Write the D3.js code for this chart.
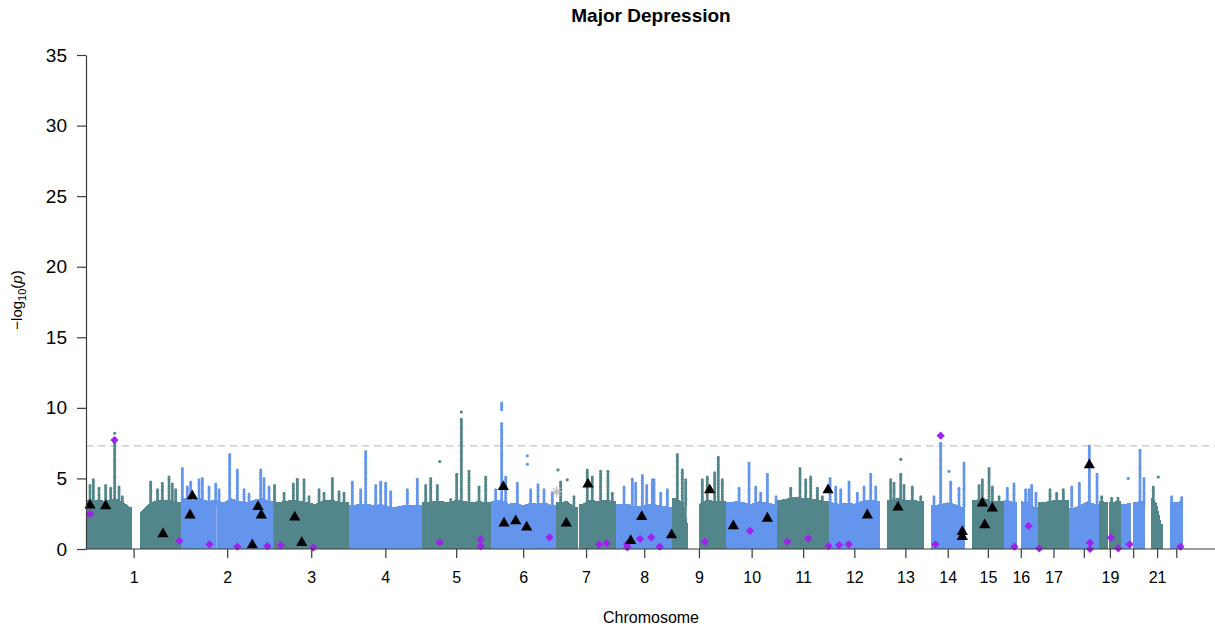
<!DOCTYPE html>
<html>
<head>
<meta charset="utf-8">
<title>Major Depression</title>
<script src="https://cdn.jsdelivr.net/npm/d3@7"></script>
<style>
  body { margin: 0; background: #fff; }
  svg { display: block; font-family: "Liberation Sans", Arial, Helvetica, sans-serif; }
</style>
</head>
<body>
<div id="chart"></div>
<script>
/*
** Data (positions in Mb within each chromosome)
*/
var chromNames = ["1","2","3","4","5","6","7","8","9","10","11","12","13","14","15","16","17","18","19","20","21","22"];
var chromTickLabels = ["1","2","3","4","5","6","7","8","9","10","11","12","13","14","15","16","17","","19","","21",""];
var chromLengthMb = [249.3,243.2,198.0,191.2,180.9,171.1,159.1,146.4,141.2,135.5,135.0,133.9,115.2,107.3,102.5,90.4,81.2,78.1,59.1,63.0,48.1,51.3];
var firstSnpMb = [0.7,0,0,0,0,0,0,0,0,0,0,0,19.0,19.0,20.0,0,0,0,0,0,14.5,16.0];
var lastSnpMb  = [249.3,243.2,198.0,191.2,180.9,171.1,159.1,146.4,141.2,135.5,135.0,133.9,115.2,107.3,102.5,90.4,81.2,78.1,59.1,63.0,48.1,51.3];
var centromereGaps = [[1,121.5,142.5],[2,92.3,95.3],[7,58.0,61.5],[9,43.0,70.0],[16,35.3,46.4],[19,24.6,28.4],[20,26.3,29.8]];

// solid "bulk" of the cloud, top -log10(p) per equal bin along each chromosome
var bodyTopByChrom = [
  [3.5,3.5,3.4,3.6,3.4,3.0,2.6,3.0,3.4,3.5,3.5,3.3],
  [3.6,3.5,3.6,3.4,3.5,3.3,3.6,3.4,3.3,3.5,3.6,3.4],
  [3.3,3.4,3.5,3.4,3.3,3.2,3.4,3.5,3.4,3.3],
  [3.1,3.2,3.2,3.1,3.2,3.0,3.0,3.1,3.1,3.1],
  [3.3,3.4,3.4,3.3,3.5,3.4,3.3,3.4,3.3],
  [3.4,3.5,3.2,3.3,3.1,3.3,3.2,3.3,3.1],
  [3.3,3.4,3.0,3.2,3.5,3.4,3.5,3.4],
  [3.2,3.2,3.0,3.1,3.2,3.1,3.0],
  [3.6,3.3,1.5,3.2,3.5,3.4,3.4],
  [3.3,3.4,3.3,3.2,3.4,3.3,3.2],
  [3.5,3.6,3.7,3.6,3.6,3.5,3.4],
  [3.3,3.2,3.3,3.2,3.4,3.5,3.4],
  [3.5,3.6,3.5,3.5,3.4],
  [3.1,3.2,3.3,3.2,3.0],
  [3.5,3.6,3.4,3.4],
  [3.5,3.3,3.4,3.3,3.0],
  [3.3,3.4,3.5,3.5],
  [2.9,3.1,3.4,3.2],
  [3.4,3.3,3.4],
  [3.2,3.3,3.4],
  [3.6,3.2,1.8],
  [3.4,3.3,3.4]
];

// columns of SNPs rising above the bulk: [chr, Mb, top, base]
var spikes = [
  [1,10.5,4.5],[1,19.2,4.9],[1,34.1,4.3],[1,51.7,4.5],[1,64.9,4.3],[1,75.4,7.6],[1,86.7,4.4],[1,95.3,3.7],
  [1,169.9,4.75],[1,187.8,4.2],[1,200.4,4.65],[1,218.0,5.1],[1,226.6,4.6],[1,235.6,4.2],
  [2,3.7,5.7],[2,16.8,4.4],[2,25.7,4.75],[2,47.5,4.9],[2,56.2,5.0],[2,73.8,4.4],[2,91.4,4.6],[2,100.1,4.2],
  [2,128.1,6.7],[2,148.1,5.6],[2,165.7,4.2],[2,178.8,3.9],[2,209.6,5.6],[2,218.2,5.0],[2,231.4,4.4],
  [3,2.6,4.5],[3,27.6,3.95],[3,52.0,4.6],[3,62.5,4.95],[3,80.1,4.9],[3,93.2,3.7],[3,119.5,4.2],[3,132.6,3.95],
  [3,154.4,5.0],[3,172.0,4.05],[3,185.1,3.95],
  [4,8.9,4.75],[4,31.0,4.2],[4,44.1,6.9],[4,70.4,4.5],[4,83.5,4.75],[4,96.6,4.65],[4,109.8,4.05],[4,153.4,4.2],[4,179.6,4.95],
  [5,10.5,4.5],[5,23.6,5.0],[5,41.0,4.5],[5,76.2,3.5],[5,91.9,5.3],[5,104.0,9.2],[5,124.2,5.5],[5,150.5,4.4],[5,168.1,5.1],
  [6,13.4,4.2],[6,29.1,8.9],[6,29.1,10.35,9.8],[6,39.7,5.1],[6,70.1,4.65],[6,105.3,4.2],[6,124.5,4.55],[6,140.2,4.2],[6,162.0,3.95],
  [7,12.9,4.75],[7,47.8,3.7],[7,82.7,5.6],[7,95.8,5.1],[7,117.9,5.5],[7,137.1,5.5],[7,148.4,3.95],
  [8,20.2,4.4],[8,42.0,4.95],[8,50.9,4.65],[8,68.3,5.2],[8,79.8,4.5],[8,94.5,4.9],[8,99.0,4.9],[8,116.6,3.95],[8,133.9,4.2],
  [9,13.7,6.7],[9,26.8,5.6],[9,35.7,4.9],[9,79.3,4.9],[9,92.4,5.1],[9,111.9,5.4],[9,121.3,6.5],[9,131.8,4.9],
  [10,34.7,4.3],[10,60.9,6.1],[10,78.5,4.4],[10,91.6,3.95],[10,109.0,5.3],[10,131.8,3.7],
  [11,34.9,4.3],[11,59.3,5.7],[11,74.3,4.9],[11,87.4,5.1],[11,104.8,4.3],[11,117.9,3.7],
  [12,3.2,5.0],[12,18.1,4.4],[12,31.2,4.2],[12,53.0,4.75],[12,74.8,3.95],[12,92.4,4.4],[12,110.0,5.3],[12,123.2,4.4],
  [13,28.6,4.9],[13,37.3,4.65],[13,54.9,5.3],[13,63.5,4.5],[13,85.3,4.4],[13,107.4,3.7],
  [14,27.0,3.7],[14,44.6,7.5],[14,70.9,4.75],[14,92.7,4.3],[14,105.8,6.1],
  [15,38.1,4.5],[15,46.7,4.9],[15,64.3,5.7],[15,73.0,4.4],[15,90.6,3.7],
  [16,9.7,4.3],[16,27.3,4.6],[16,58.0,4.2],[16,66.7,4.2],[16,73.8,4.5],[16,85.0,3.95],
  [17,31.5,4.2],[17,49.1,3.95],[17,66.4,4.2],
  [18,7.4,4.4],[18,27.3,4.65],[18,53.6,7.3],[18,73.8,5.3],
  [19,7.9,3.7],[19,34.1,3.6],[19,50.7,3.6],
  [20,49.4,7.0],[20,59.9,5.0],
  [21,21.3,4.4],
  [22,21.5,3.7],[22,47.8,3.65]
];
// lone SNPs above the columns: [chr, Mb, -log10(p)]
var lonePoints = [
  [1,75.4,8.2],[5,47.3,6.2],[5,104.0,9.7],[6,96.4,6.6],[6,96.4,6.0],[7,5.8,5.6],[7,30.2,4.9],
  [13,54.9,6.35],[14,66.4,5.5],[20,18.6,5.0],[21,34.4,5.1]
];
// highlighted loci
var triangleHits = [
  [1,10.5,3.1],[1,51.7,3.05],[1,202.2,1.06],[2,29.9,3.75],[2,23.9,2.4],[2,202.5,3.0],[2,211.1,2.4],[2,187.5,0.28],
  [3,55.7,2.25],[3,74.1,0.45],[6,33.4,4.41],[6,35.2,1.82],[6,65.9,1.98],[6,94.8,1.54],[7,27.6,1.82],[7,84.6,4.58],
  [8,66.7,2.29],[8,37.8,0.59],[8,145.0,0.99],[9,98.7,4.18],[10,19.7,1.63],[10,109.0,2.17],[11,132.9,4.18],
  [12,101.1,2.4],[13,47.8,2.95],[14,101.4,1.23],[14,101.4,0.87],[15,46.7,3.24],[15,73.0,2.88],[15,53.0,1.7],[18,53.6,5.95]
];
var diamondHits = [
  [1,10.5,2.48],[1,74.8,7.72],[1,245.5,0.57],[2,75.1,0.33],[2,148.1,0.16],[2,226.9,0.21],[3,19.2,0.26],[3,104.5,0.1],
  [5,47.3,0.47],[5,154.9,0.68],[5,154.9,0.21],[6,154.7,0.83],[7,113.4,0.33],[7,133.7,0.4],[8,28.1,0.35],[8,28.9,0.12],
  [8,62.2,0.71],[8,91.6,0.83],[8,114.2,0.16],[9,86.4,0.52],[10,63.5,1.28],[11,26.0,0.52],[11,80.9,0.76],[11,134.2,0.21],
  [12,26.8,0.28],[12,52.3,0.33],[14,31.0,0.33],[14,44.6,8.03],[16,28.6,0.16],[16,65.4,1.63],[17,3.4,0.05],
  [18,55.4,0.45],[18,55.4,0.0],[19,32.3,0.8],[19,51.5,0.05],[20,22.3,0.33],[22,44.6,0.16]
];
var asteriskHits = [[7,2.4,4.06]];
var gwsThreshold = 7.3;
var yTicks = [0,5,10,15,20,25,30,35];

/*
** Scales
*/
var width = 1215
  , height = 630
  , cumStart = []
  , total = chromLengthMb.reduce(function(acc, l, i) { cumStart[i] = acc; return acc + l; }, 0)
  , x = d3.scaleLinear().domain([0, total]).range([86, 1183])
  , y = d3.scaleLinear().domain([0, 35]).range([549, 55])
  , axisColor = "#3a3a3a"
;
function gx(chr, mb) { return x(cumStart[chr - 1] + mb); }
function colorOf(chr) { return chr % 2 ? "#53868B" : "#6495ED"; }

// pieces of the bulk between centromere gaps
function bodySegments(ci) {
    var first = firstSnpMb[ci]
      , last = lastSnpMb[ci]
      , vals = bodyTopByChrom[ci]
      , n = vals.length
      , w = (last - first) / n
      , segs = [[first, last]]
    ;
    centromereGaps.filter(function(g) { return g[0] === ci + 1; }).forEach(function(g) {
        segs = segs.flatMap(function(s) {
            return (g[1] > s[0] && g[2] < s[1]) ? [[s[0], g[1]], [g[2], s[1]]] : [s];
        });
    });
    function valAt(p) { return vals[Math.min(n - 1, Math.max(0, Math.floor((p - first) / w)))]; }
    return segs.map(function(s) {
        var pts = [[s[0], valAt(s[0])]];
        vals.forEach(function(v, i) {
            var c = first + (i + 0.5) * w;
            if (c > s[0] && c < s[1]) pts.push([c, v]);
        });
        pts.push([s[1], valAt(s[1])]);
        return pts;
    });
}

// beads drawn down a column, so it reads as stacked SNPs
function beads(d) {
    var top = y(d[2]), bottom = y(d[3] || 3), out = [];
    for (var py = top; py <= bottom; py += 2.3) out.push({cx: gx(d[0], d[1]), cy: py, chr: d[0]});
    return out;
}

/*
** Drawing
*/
var svg = d3.select("#chart")
  .append("svg")
    .attr("width", width)
    .attr("height", height)
    .attr("viewBox", [0, 0, width, height].join(" "))
;
svg.append("text")
    .attr("x", 651)
    .attr("y", 22)
    .attr("text-anchor", "middle")
    .style("font-weight", "bold")
    .style("font-size", "19px")
    .text("Major Depression")
;

// genome-wide significance line
svg.append("line")
    .attr("x1", 86).attr("x2", 1215)
    .attr("y1", y(gwsThreshold)).attr("y2", y(gwsThreshold))
    .attr("stroke", "#c4c4c4")
    .attr("stroke-width", 1.2)
    .attr("stroke-dasharray", "7,5")
;

var points = svg.append("g").attr("class", "points");

chromNames.forEach(function(name, ci) {
    var area = d3.area()
        .x(function(d) { return gx(ci + 1, d[0]); })
        .y0(y(0))
        .y1(function(d) { return y(d[1]); })
    ;
    points.selectAll(".body-" + name)
        .data(bodySegments(ci))
      .enter()
      .append("path")
        .attr("class", "body-" + name)
        .attr("d", area)
        .attr("fill", colorOf(ci + 1))
        .attr("shape-rendering", "crispEdges")
    ;
});

points.selectAll(".spike")
    .data(spikes)
  .enter()
  .append("rect")
    .attr("class", "spike")
    .attr("x", function(d) { return gx(d[0], d[1]) - 1; })
    .attr("width", 2)
    .attr("y", function(d) { return y(d[2]); })
    .attr("height", function(d) { return y(d[3] || 0) - y(d[2]); })
    .attr("fill", function(d) { return colorOf(d[0]); })
;
points.selectAll(".bead")
    .data(spikes.flatMap(beads))
  .enter()
  .append("circle")
    .attr("class", "bead")
    .attr("cx", function(d) { return d.cx; })
    .attr("cy", function(d) { return d.cy; })
    .attr("r", 1.5)
    .attr("fill", function(d) { return colorOf(d.chr); })
;
points.selectAll(".lone")
    .data(lonePoints)
  .enter()
  .append("circle")
    .attr("class", "lone")
    .attr("cx", function(d) { return gx(d[0], d[1]); })
    .attr("cy", function(d) { return y(d[2]); })
    .attr("r", 1.6)
    .attr("fill", function(d) { return colorOf(d[0]); })
;

// highlighted loci
svg.selectAll(".hit-ast")
    .data(asteriskHits)
  .enter()
  .append("path")
    .attr("class", "hit-ast")
    .attr("d", function(d) {
        var cx = gx(d[0], d[1]), cy = y(d[2]), r = 5.5, q = r * 0.7;
        return "M" + (cx - r) + "," + cy + "H" + (cx + r)
             + "M" + cx + "," + (cy - r) + "V" + (cy + r)
             + "M" + (cx - q) + "," + (cy - q) + "L" + (cx + q) + "," + (cy + q)
             + "M" + (cx - q) + "," + (cy + q) + "L" + (cx + q) + "," + (cy - q);
      })
    .attr("stroke", "#bdbdbd")
    .attr("stroke-width", 1.3)
    .attr("fill", "none")
;
svg.selectAll(".hit-dia")
    .data(diamondHits)
  .enter()
  .append("path")
    .attr("class", "hit-dia")
    .attr("d", d3.symbol(d3.symbolSquare, 34))
    .attr("transform", function(d) { return "translate(" + gx(d[0], d[1]) + "," + y(d[2]) + ") rotate(45)"; })
    .attr("fill", "#A020F0")
;
svg.selectAll(".hit-tri")
    .data(triangleHits)
  .enter()
  .append("path")
    .attr("class", "hit-tri")
    .attr("d", d3.symbol(d3.symbolTriangle, 55))
    .attr("transform", function(d) { return "translate(" + gx(d[0], d[1]) + "," + y(d[2]) + ")"; })
    .attr("fill", "#000")
;

/*
** Axes
*/
var yAxis = svg.append("g")
    .attr("transform", "translate(86,0)")
    .call(d3.axisLeft(y).tickValues(yTicks).tickSize(9).tickSizeOuter(0).tickPadding(10))
;
yAxis.selectAll("path, line").attr("stroke", axisColor).attr("stroke-width", 1.2);
yAxis.selectAll("text").attr("fill", "#000").style("font-size", "19px").style("font-family", "inherit");

var tickCenters = chromNames.map(function(n, i) { return cumStart[i] + (firstSnpMb[i] + lastSnpMb[i]) / 2; });
var xAxis = svg.append("g")
    .attr("transform", "translate(0," + y(0) + ")")
    .call(d3.axisBottom(x)
        .tickValues(tickCenters)
        .tickFormat(function(d, i) { return chromTickLabels[i]; })
        .tickSize(9)
        .tickPadding(14))
;
xAxis.select(".domain").remove();
xAxis.selectAll("line").attr("stroke", axisColor).attr("stroke-width", 1.2);
xAxis.selectAll("text").attr("fill", "#000").style("font-size", "16px").style("font-family", "inherit");
svg.append("line")
    .attr("x1", 86).attr("x2", 1215)
    .attr("y1", y(0)).attr("y2", y(0))
    .attr("stroke", axisColor)
    .attr("stroke-width", 1.2)
;

svg.append("text")
    .attr("x", 651)
    .attr("y", 623)
    .attr("text-anchor", "middle")
    .style("font-size", "16px")
    .text("Chromosome")
;
var ylab = svg.append("text")
    .attr("transform", "translate(22,300) rotate(-90)")
    .attr("text-anchor", "middle")
    .style("font-size", "15px")
;
ylab.append("tspan").text("\u2212log");
ylab.append("tspan").attr("dy", 4).style("font-size", "11px").text("10");
ylab.append("tspan").attr("dy", -4).text("(");
ylab.append("tspan").style("font-style", "italic").text("p");
ylab.append("tspan").text(")");
</script>
</body>
</html>
